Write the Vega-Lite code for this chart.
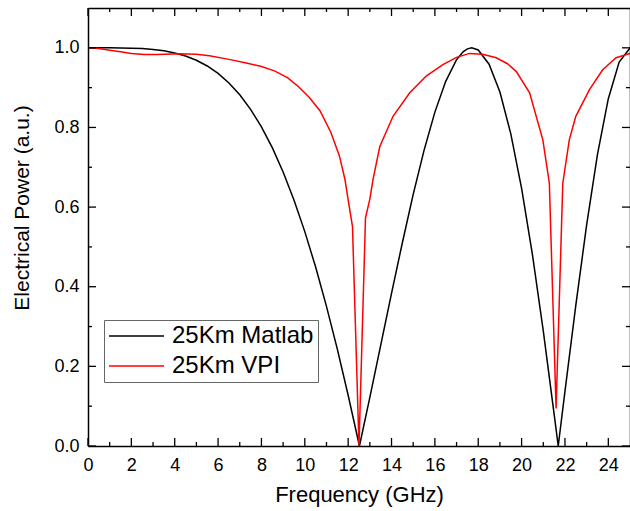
{
  "$schema": "https://vega.github.io/schema/vega-lite/v6.json",
  "width": 542,
  "height": 438,
  "autosize": "none",
  "padding": {"left": 88, "top": 8, "right": 0, "bottom": 65},
  "background": "white",
  "config": {"view": {"stroke": null}, "font": "Liberation Sans", "axis": {"zindex": 1}},
  "data": {"values": [
    {"series": "25Km Matlab", "f": 0, "p": 1.0},
    {"series": "25Km Matlab", "f": 0.5, "p": 1.0},
    {"series": "25Km Matlab", "f": 1, "p": 1.0},
    {"series": "25Km Matlab", "f": 1.5, "p": 0.9998},
    {"series": "25Km Matlab", "f": 2, "p": 0.9992},
    {"series": "25Km Matlab", "f": 2.5, "p": 0.998},
    {"series": "25Km Matlab", "f": 3, "p": 0.9959},
    {"series": "25Km Matlab", "f": 3.5, "p": 0.9925},
    {"series": "25Km Matlab", "f": 4, "p": 0.9872},
    {"series": "25Km Matlab", "f": 4.5, "p": 0.9795},
    {"series": "25Km Matlab", "f": 5, "p": 0.9688},
    {"series": "25Km Matlab", "f": 5.5, "p": 0.9544},
    {"series": "25Km Matlab", "f": 6, "p": 0.9356},
    {"series": "25Km Matlab", "f": 6.5, "p": 0.9117},
    {"series": "25Km Matlab", "f": 7, "p": 0.8819},
    {"series": "25Km Matlab", "f": 7.5, "p": 0.8453},
    {"series": "25Km Matlab", "f": 8, "p": 0.8013},
    {"series": "25Km Matlab", "f": 8.5, "p": 0.7492},
    {"series": "25Km Matlab", "f": 9, "p": 0.6883},
    {"series": "25Km Matlab", "f": 9.5, "p": 0.6181},
    {"series": "25Km Matlab", "f": 10, "p": 0.5384},
    {"series": "25Km Matlab", "f": 10.5, "p": 0.4494},
    {"series": "25Km Matlab", "f": 11, "p": 0.3506},
    {"series": "25Km Matlab", "f": 11.5, "p": 0.2432},
    {"series": "25Km Matlab", "f": 12, "p": 0.1274},
    {"series": "25Km Matlab", "f": 12.52, "p": 0.0},
    {"series": "25Km Matlab", "f": 13, "p": 0.1223},
    {"series": "25Km Matlab", "f": 13.5, "p": 0.2527},
    {"series": "25Km Matlab", "f": 14, "p": 0.3832},
    {"series": "25Km Matlab", "f": 14.5, "p": 0.5105},
    {"series": "25Km Matlab", "f": 15, "p": 0.6319},
    {"series": "25Km Matlab", "f": 15.5, "p": 0.7425},
    {"series": "25Km Matlab", "f": 16, "p": 0.8385},
    {"series": "25Km Matlab", "f": 16.5, "p": 0.9158},
    {"series": "25Km Matlab", "f": 17, "p": 0.97},
    {"series": "25Km Matlab", "f": 17.3, "p": 0.9899},
    {"series": "25Km Matlab", "f": 17.5, "p": 0.9974},
    {"series": "25Km Matlab", "f": 17.7, "p": 1.0},
    {"series": "25Km Matlab", "f": 18, "p": 0.9945},
    {"series": "25Km Matlab", "f": 18.5, "p": 0.9588},
    {"series": "25Km Matlab", "f": 19, "p": 0.8888},
    {"series": "25Km Matlab", "f": 19.5, "p": 0.7845},
    {"series": "25Km Matlab", "f": 20, "p": 0.6472},
    {"series": "25Km Matlab", "f": 20.5, "p": 0.4806},
    {"series": "25Km Matlab", "f": 21, "p": 0.2891},
    {"series": "25Km Matlab", "f": 21.5, "p": 0.0801},
    {"series": "25Km Matlab", "f": 21.69, "p": 0.0},
    {"series": "25Km Matlab", "f": 22, "p": 0.1373},
    {"series": "25Km Matlab", "f": 22.5, "p": 0.353},
    {"series": "25Km Matlab", "f": 23, "p": 0.5553},
    {"series": "25Km Matlab", "f": 23.5, "p": 0.7325},
    {"series": "25Km Matlab", "f": 24, "p": 0.8722},
    {"series": "25Km Matlab", "f": 24.5, "p": 0.9643},
    {"series": "25Km Matlab", "f": 25, "p": 0.9998},
    {"series": "25Km VPI", "f": 0, "p": 1.0},
    {"series": "25Km VPI", "f": 0.5, "p": 0.998},
    {"series": "25Km VPI", "f": 1, "p": 0.994},
    {"series": "25Km VPI", "f": 1.5, "p": 0.99},
    {"series": "25Km VPI", "f": 2, "p": 0.986},
    {"series": "25Km VPI", "f": 2.6, "p": 0.983},
    {"series": "25Km VPI", "f": 3.2, "p": 0.983},
    {"series": "25Km VPI", "f": 4.2, "p": 0.985},
    {"series": "25Km VPI", "f": 5, "p": 0.984},
    {"series": "25Km VPI", "f": 5.6, "p": 0.98},
    {"series": "25Km VPI", "f": 6.5, "p": 0.971},
    {"series": "25Km VPI", "f": 7.3, "p": 0.962},
    {"series": "25Km VPI", "f": 8, "p": 0.953},
    {"series": "25Km VPI", "f": 8.6, "p": 0.942},
    {"series": "25Km VPI", "f": 9.2, "p": 0.925},
    {"series": "25Km VPI", "f": 9.7, "p": 0.903},
    {"series": "25Km VPI", "f": 10.2, "p": 0.876},
    {"series": "25Km VPI", "f": 10.7, "p": 0.842},
    {"series": "25Km VPI", "f": 11.2, "p": 0.788},
    {"series": "25Km VPI", "f": 11.6, "p": 0.728},
    {"series": "25Km VPI", "f": 11.85, "p": 0.67},
    {"series": "25Km VPI", "f": 12.0, "p": 0.618},
    {"series": "25Km VPI", "f": 12.2, "p": 0.551},
    {"series": "25Km VPI", "f": 12.5, "p": 0.0},
    {"series": "25Km VPI", "f": 12.8, "p": 0.573},
    {"series": "25Km VPI", "f": 13.0, "p": 0.62},
    {"series": "25Km VPI", "f": 13.15, "p": 0.67},
    {"series": "25Km VPI", "f": 13.46, "p": 0.752},
    {"series": "25Km VPI", "f": 14.07, "p": 0.828},
    {"series": "25Km VPI", "f": 14.84, "p": 0.887},
    {"series": "25Km VPI", "f": 15.6, "p": 0.929},
    {"series": "25Km VPI", "f": 16.37, "p": 0.958},
    {"series": "25Km VPI", "f": 17.0, "p": 0.976},
    {"series": "25Km VPI", "f": 17.6, "p": 0.986},
    {"series": "25Km VPI", "f": 18.2, "p": 0.984},
    {"series": "25Km VPI", "f": 18.83, "p": 0.975},
    {"series": "25Km VPI", "f": 19.35, "p": 0.96},
    {"series": "25Km VPI", "f": 19.75, "p": 0.941},
    {"series": "25Km VPI", "f": 20.37, "p": 0.887},
    {"series": "25Km VPI", "f": 20.98, "p": 0.769},
    {"series": "25Km VPI", "f": 21.28, "p": 0.66},
    {"series": "25Km VPI", "f": 21.59, "p": 0.094},
    {"series": "25Km VPI", "f": 21.9, "p": 0.66},
    {"series": "25Km VPI", "f": 22.2, "p": 0.769},
    {"series": "25Km VPI", "f": 22.5, "p": 0.828},
    {"series": "25Km VPI", "f": 23.13, "p": 0.895},
    {"series": "25Km VPI", "f": 23.74, "p": 0.945},
    {"series": "25Km VPI", "f": 24.36, "p": 0.975},
    {"series": "25Km VPI", "f": 25, "p": 0.986}
  ]},
  "layer": [
    {
      "mark": {"type": "line", "strokeWidth": 1.5},
      "encoding": {
        "x": {
          "field": "f", "type": "quantitative",
          "scale": {"domain": [0, 25], "nice": false, "zero": false},
          "axis": {
            "orient": "bottom", "zindex": 1,
            "values": [0,2,4,6,8,10,12,14,16,18,20,22,24],
            "format": "d",
            "labelFontSize": 18, "labelColor": "black", "labelFlush": false, "labelOverlap": false,
            "labelPadding": 10, "ticks": false, "tickSize": 0,
            "domainColor": "black", "domainWidth": 1.5,
            "grid": false,
            "title": "Frequency (GHz)", "titleFontSize": 22, "titleFontWeight": "normal",
            "titleColor": "black", "titlePadding": 10
          }
        },
        "y": {
          "field": "p", "type": "quantitative",
          "scale": {"domain": [0, 1.1], "nice": false, "zero": false},
          "axis": {
            "orient": "left", "zindex": 1,
            "values": [0,0.2,0.4,0.6,0.8,1.0],
            "format": ".1f",
            "labelFontSize": 18, "labelColor": "black", "labelFlush": false, "labelOverlap": false,
            "labelPadding": 9, "ticks": false, "tickSize": 0,
            "domainColor": "black", "domainWidth": 1.5,
            "grid": false,
            "title": "Electrical Power (a.u.)", "titleFontSize": 21, "titleFontWeight": "normal",
            "titleColor": "black", "titleX": -60, "titleY": 199.5, "titleBaseline": "alphabetic", "titleAlign": "center", "titleAngle": -90
          }
        },
        "color": {
          "field": "series", "type": "nominal",
          "scale": {"domain": ["25Km Matlab", "25Km VPI"], "range": ["#000000", "#ff0000"]},
          "legend": {
            "orient": "none", "legendX": 16, "legendY": 312,
            "title": null,
            "symbolType": "stroke", "symbolSize": 3025, "symbolStrokeWidth": 1.5,
            "labelFontSize": 24, "labelColor": "black", "labelOffset": 7,
            "clipHeight": 24, "rowPadding": 6,
            "strokeColor": "#666666", "fillColor": "white", "padding": 4
          }
        }
      }
    },
    {
      "mark": {"type": "line", "opacity": 0},
      "encoding": {
        "x": {
          "field": "f", "type": "quantitative",
          "axis": {
            "orient": "top", "zindex": 1, "labels": false, "title": null, "grid": false,
            "ticks": false, "domainColor": "black", "domainWidth": 1.5
          }
        },
        "y": {
          "field": "p", "type": "quantitative",
          "axis": {
            "orient": "right", "zindex": 1, "labels": false, "title": null, "grid": false,
            "ticks": false, "domainColor": "black", "domainWidth": 1.5
          }
        },
        "detail": {"field": "series", "type": "nominal"}
      }
    },
    {
      "data": {"values": [{"t": 0}, {"t": 2}, {"t": 4}, {"t": 6}, {"t": 8}, {"t": 10}, {"t": 12}, {"t": 14}, {"t": 16}, {"t": 18}, {"t": 20}, {"t": 22}, {"t": 24}]},
      "mark": {"type": "rule", "color": "black", "strokeWidth": 1.3},
      "encoding": {
        "x": {"field": "t", "type": "quantitative", "axis": null},
        "y": {"datum": 0, "type": "quantitative", "axis": null},
        "y2": {"datum": 0.0201}
      }
    },
    {
      "data": {"values": [{"t": 0}, {"t": 2}, {"t": 4}, {"t": 6}, {"t": 8}, {"t": 10}, {"t": 12}, {"t": 14}, {"t": 16}, {"t": 18}, {"t": 20}, {"t": 22}, {"t": 24}]},
      "mark": {"type": "rule", "color": "black", "strokeWidth": 1.3},
      "encoding": {
        "x": {"field": "t", "type": "quantitative", "axis": null},
        "y": {"datum": 1.1, "type": "quantitative", "axis": null},
        "y2": {"datum": 1.0799}
      }
    },
    {
      "data": {"values": [{"t": 1}, {"t": 3}, {"t": 5}, {"t": 7}, {"t": 9}, {"t": 11}, {"t": 13}, {"t": 15}, {"t": 17}, {"t": 19}, {"t": 21}, {"t": 23}]},
      "mark": {"type": "rule", "color": "black", "strokeWidth": 1.3},
      "encoding": {
        "x": {"field": "t", "type": "quantitative", "axis": null},
        "y": {"datum": 0, "type": "quantitative", "axis": null},
        "y2": {"datum": 0.01}
      }
    },
    {
      "data": {"values": [{"t": 1}, {"t": 3}, {"t": 5}, {"t": 7}, {"t": 9}, {"t": 11}, {"t": 13}, {"t": 15}, {"t": 17}, {"t": 19}, {"t": 21}, {"t": 23}]},
      "mark": {"type": "rule", "color": "black", "strokeWidth": 1.3},
      "encoding": {
        "x": {"field": "t", "type": "quantitative", "axis": null},
        "y": {"datum": 1.1, "type": "quantitative", "axis": null},
        "y2": {"datum": 1.09}
      }
    },
    {
      "data": {"values": [{"t": 0}, {"t": 0.2}, {"t": 0.4}, {"t": 0.6}, {"t": 0.8}, {"t": 1.0}]},
      "mark": {"type": "rule", "color": "black", "strokeWidth": 1.3},
      "encoding": {
        "y": {"field": "t", "type": "quantitative", "axis": null},
        "x": {"datum": 0, "type": "quantitative", "axis": null},
        "x2": {"datum": 0.369}
      }
    },
    {
      "data": {"values": [{"t": 0}, {"t": 0.2}, {"t": 0.4}, {"t": 0.6}, {"t": 0.8}, {"t": 1.0}]},
      "mark": {"type": "rule", "color": "black", "strokeWidth": 1.3},
      "encoding": {
        "y": {"field": "t", "type": "quantitative", "axis": null},
        "x": {"datum": 25, "type": "quantitative", "axis": null},
        "x2": {"datum": 24.631}
      }
    },
    {
      "data": {"values": [{"t": 0.1}, {"t": 0.3}, {"t": 0.5}, {"t": 0.7}, {"t": 0.9}]},
      "mark": {"type": "rule", "color": "black", "strokeWidth": 1.3},
      "encoding": {
        "y": {"field": "t", "type": "quantitative", "axis": null},
        "x": {"datum": 0, "type": "quantitative", "axis": null},
        "x2": {"datum": 0.185}
      }
    },
    {
      "data": {"values": [{"t": 0.1}, {"t": 0.3}, {"t": 0.5}, {"t": 0.7}, {"t": 0.9}]},
      "mark": {"type": "rule", "color": "black", "strokeWidth": 1.3},
      "encoding": {
        "y": {"field": "t", "type": "quantitative", "axis": null},
        "x": {"datum": 25, "type": "quantitative", "axis": null},
        "x2": {"datum": 24.815}
      }
    }
  ],
  "resolve": {"axis": {"x": "independent", "y": "independent"}}
}
